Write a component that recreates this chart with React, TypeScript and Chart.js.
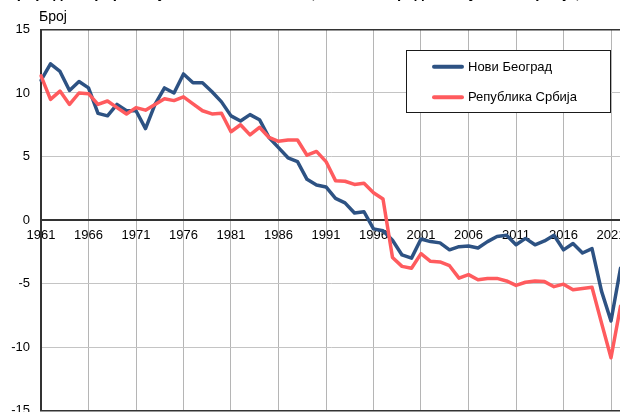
import { useEffect, useRef } from "react";
import { Chart, registerables } from "chart.js";

Chart.register(...registerables);

const years = [
  "1961", "1962", "1963", "1964", "1965", "1966", "1967", "1968", "1969", "1970",
  "1971", "1972", "1973", "1974", "1975", "1976", "1977", "1978", "1979", "1980",
  "1981", "1982", "1983", "1984", "1985", "1986", "1987", "1988", "1989", "1990",
  "1991", "1992", "1993", "1994", "1995", "1996", "1997", "1998", "1999", "2000",
  "2001", "2002", "2003", "2004", "2005", "2006", "2007", "2008", "2009", "2010",
  "2011", "2012", "2013", "2014", "2015", "2016", "2017", "2018", "2019", "2020",
  "2021", "2022",
];

const noviBeograd = [
  11.0, 12.3, 11.7, 10.2, 10.9, 10.4, 8.4, 8.2, 9.1, 8.6,
  8.6, 7.2, 9.1, 10.4, 10.0, 11.5, 10.8, 10.8, 10.1, 9.3,
  8.2, 7.8, 8.3, 7.9, 6.5, 5.7, 4.9, 4.6, 3.2, 2.75,
  2.6, 1.7, 1.35, 0.55, 0.65, -0.7, -0.85, -1.6, -2.75, -3.0,
  -1.5, -1.7, -1.8, -2.35, -2.1, -2.05, -2.2, -1.7, -1.3, -1.2,
  -1.95, -1.45, -1.95, -1.65, -1.2, -2.35, -1.85, -2.6, -2.25, -5.6,
  -7.95, -3.8,
];

const srbija = [
  11.35, 9.5, 10.15, 9.1, 10.0, 9.95, 9.1, 9.37, 8.85, 8.35,
  8.85, 8.65, 9.1, 9.55, 9.4, 9.7, 9.15, 8.6, 8.35, 8.4,
  6.95, 7.5, 6.7, 7.3, 6.5, 6.2, 6.3, 6.3, 5.1, 5.4,
  4.6, 3.1, 3.05, 2.8, 2.9, 2.15, 1.65, -2.95, -3.65, -3.8,
  -2.65, -3.25, -3.3, -3.6, -4.58, -4.3, -4.7, -4.6, -4.6, -4.8,
  -5.15, -4.9, -4.8, -4.85, -5.25, -5.05, -5.5, -5.4, -5.3, -8.1,
  -10.85, -6.8,
];

const seriesNames = ["Нови Београд", "Република Србија"];
const seriesColors = ["#2D5283", "#FF5B5E"];
const TITLE = "Природни прираштај на 1000 становника, Нови Београд и Република Србија, 1961–2022";
const Y_TITLE = "Број";
const FONT = '"Liberation Sans", Arial, sans-serif';

const overlay = {
  id: "overlay",
  afterDraw(chart: any) {
    const { ctx } = chart;
    ctx.save();
    ctx.fillStyle = "#000";
    ctx.textAlign = "left";
    ctx.textBaseline = "alphabetic";
    ctx.font = `bold 15px ${FONT}`;
    ctx.fillText(TITLE, 6, -2);
    ctx.font = `14px ${FONT}`;
    ctx.fillText(Y_TITLE, 39, 20.5);

    // legend box
    const bx = 406.5, by = 50.5, bw = 204, bh = 62;
    ctx.fillStyle = "#fff";
    ctx.fillRect(bx, by, bw, bh);
    ctx.strokeStyle = "#1a1a1a";
    ctx.lineWidth = 1;
    ctx.strokeRect(bx, by, bw, bh);
    const rows = [66.7, 97.3];
    chart.data.datasets.forEach((ds: any, i: number) => {
      const y = rows[i];
      ctx.strokeStyle = ds.borderColor;
      ctx.lineWidth = 4;
      ctx.lineCap = "round";
      ctx.beginPath();
      ctx.moveTo(434, y);
      ctx.lineTo(462, y);
      ctx.stroke();
      ctx.fillStyle = "#000";
      ctx.font = `13px ${FONT}`;
      ctx.textBaseline = "middle";
      ctx.fillText(ds.label, 468, y + 0.5);
    });
    ctx.restore();
  },
};

export default function App() {
  const ref = useRef<HTMLCanvasElement>(null);
  useEffect(() => {
    if (!ref.current) return;
    const chart = new Chart(ref.current, {
      type: "line",
      data: {
        labels: years,
        datasets: [
          {
            label: seriesNames[0],
            data: noviBeograd,
            borderColor: seriesColors[0],
            backgroundColor: seriesColors[0],
            borderWidth: 3.5,
            pointRadius: 0,
            tension: 0,
            borderJoinStyle: "round",
            borderCapStyle: "round",
            order: 1,
          },
          {
            label: seriesNames[1],
            data: srbija,
            borderColor: seriesColors[1],
            backgroundColor: seriesColors[1],
            borderWidth: 3.5,
            pointRadius: 0,
            tension: 0,
            borderJoinStyle: "round",
            borderCapStyle: "round",
            order: 0,
          },
        ],
      },
      options: {
        responsive: false,
        animation: false,
        devicePixelRatio: 1,
        layout: { padding: { left: 0, top: 29.5, right: 19.5, bottom: 29.5 } },
        plugins: {
          legend: { display: false },
          tooltip: { enabled: false },
          title: { display: false },
        },
        scales: {
          x: {
            type: "category",
            position: { y: 0 } as any,
            offset: false,
            grid: {
              drawTicks: false,
              color: (c: any) => (c.index % 5 === 0 ? "#b5b5b5" : "rgba(0,0,0,0)"),
              lineWidth: 1,
            },
            border: { display: true, color: "#333", width: 1.5 },
            ticks: {
              autoSkip: false,
              maxRotation: 0,
              minRotation: 0,
              padding: 8,
              color: "#000",
              font: { family: FONT, size: 13 },
              callback: (_v: any, i: number) => (i % 5 === 0 ? years[i] : ""),
            },
          },
          y: {
            min: -15,
            max: 15,
            ticks: {
              stepSize: 5,
              padding: 11,
              color: "#000",
              font: { family: FONT, size: 13 },
            },
            grid: {
              drawTicks: false,
              color: (c: any) => {
                const v = c.tick && c.tick.value;
                if (v === 0 || v === 15 || v === -15) return "#333";
                return "#c4c4c4";
              },
              lineWidth: (c: any) => {
                const v = c.tick && c.tick.value;
                return v === 15 || v === -15 ? 1.5 : 1;
              },
            },
            border: { display: true, color: "#333", width: 2 },
            afterFit: (s: any) => {
              s.width = 41;
            },
          },
        },
      },
      plugins: [overlay],
    });
    return () => chart.destroy();
  }, []);

  return (
    <div
      style={{
        position: "fixed",
        left: 0,
        top: 0,
        width: 620,
        height: 412,
        overflow: "hidden",
        background: "#fff",
      }}
    >
      <canvas ref={ref} width={640} height={440} style={{ display: "block", width: 640, height: 440 }} />
    </div>
  );
}
